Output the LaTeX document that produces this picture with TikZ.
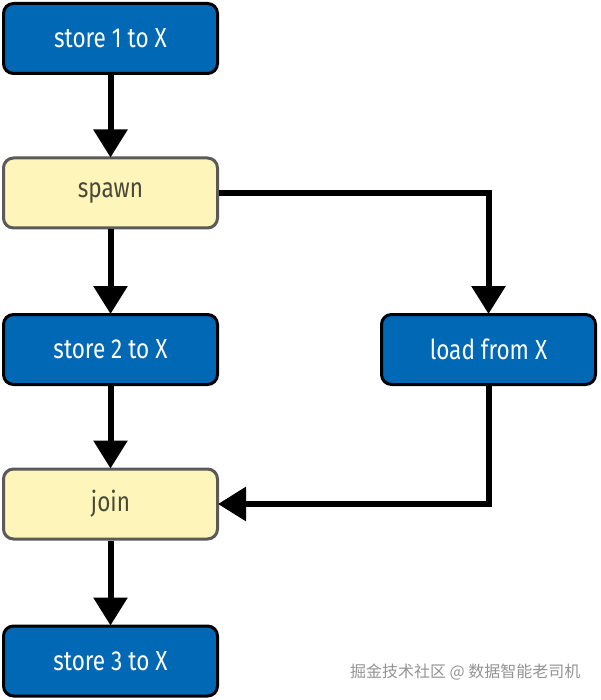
\documentclass[tikz,border=0pt]{standalone}
\usepackage{fontspec}
\setmainfont{Fira Sans}[FakeStretch=0.82]
\newfontfamily\cjk{Noto Sans CJK SC}
\usetikzlibrary{arrows.meta}
\definecolor{boxblue}{HTML}{0068B5}
\definecolor{boxyellow}{HTML}{FDF5BA}
\definecolor{yborder}{HTML}{5A5A5A}
\definecolor{ytext}{HTML}{4A4838}
\begin{document}
\begin{tikzpicture}[x=1pt,y=-1pt,
  bluebox/.style={draw=black, line width=3pt, fill=boxblue, rounded corners=10pt,
    minimum width=214pt, minimum height=70pt, text=white, font=\fontsize{27.5}{32}\selectfont, inner sep=0pt},
  yellowbox/.style={draw=yborder, line width=3pt, fill=boxyellow, rounded corners=10pt,
    minimum width=214pt, minimum height=70pt, text=ytext, font=\fontsize{27.5}{32}\selectfont, inner sep=0pt},
  flow/.style={line width=6pt, -{Triangle[width=33pt,length=28pt]}, shorten >=-1pt}]
\useasboundingbox (0,0) rectangle (600,700);
\node[bluebox] (s1) at (110.5,38.5) {store 1 to X};
\node[yellowbox] (sp) at (110.5,193) {spawn};
\node[bluebox] (s2) at (110.5,349.5) {store 2 to X};
\node[bluebox] (ld) at (488.5,349.5) {load from X};
\node[yellowbox] (jn) at (110.5,504) {join};
\node[bluebox] (s3) at (110.5,661) {store 3 to X};
\draw[flow] (s1) -- (sp);
\draw[flow] (sp) -- (s2);
\draw[flow] (s2) -- (jn);
\draw[flow] (jn) -- (s3);
\draw[flow] (sp.east) -| (ld.north);
\draw[flow] (ld.south) |- (jn.east);
\node[text=gray!85, font=\cjk\fontsize{16}{19}\selectfont, anchor=east] (wm) at (584,672) {掘金技术社区 @ 数据智能老司机};
\end{tikzpicture}
\end{document}
